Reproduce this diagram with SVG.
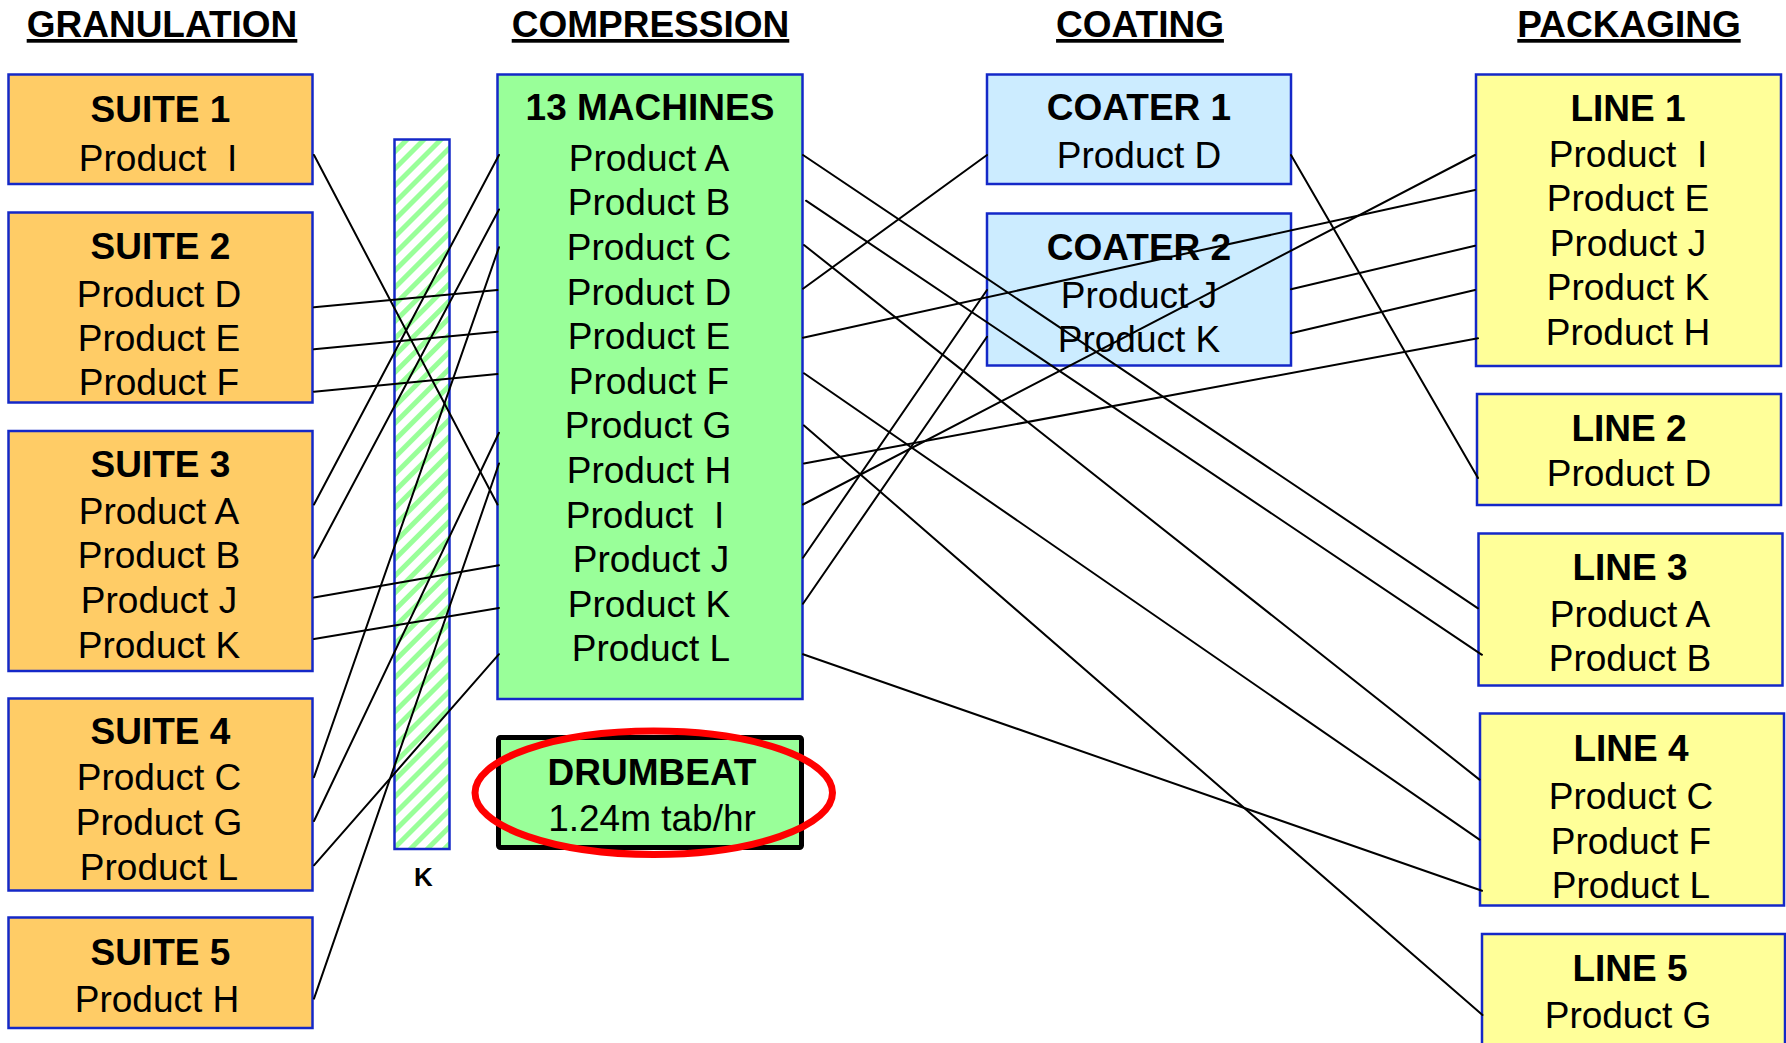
<svg xmlns="http://www.w3.org/2000/svg" width="1786" height="1043" viewBox="0 0 1786 1043">
<style>
text{font-family:"Liberation Sans",Arial,sans-serif;font-size:37px;fill:#000;text-anchor:middle}
.b{font-weight:bold}
.hdr{font-weight:bold;text-decoration:underline}
.box{stroke:#1428C8;stroke-width:2.5}
.suite{fill:#FFCC66}
.comp{fill:#99FF99}
.coat{fill:#CCECFF}
.line{fill:#FFFF99}
#connectors line{stroke:#000;stroke-width:2;stroke-linecap:round}
</style>
<defs>
<pattern id="hatch" width="12" height="12" patternUnits="userSpaceOnUse" patternTransform="rotate(45)">
<rect width="12" height="12" fill="#fff"/>
<rect width="5" height="12" fill="#99FF99"/>
</pattern>
</defs>
<rect width="1786" height="1043" fill="#fff"/>

<g id="headers">
<text class="hdr" x="162" y="37">GRANULATION</text>
<text class="hdr" x="650.5" y="37">COMPRESSION</text>
<text class="hdr" x="1140" y="37">COATING</text>
<text class="hdr" x="1629" y="37">PACKAGING</text>
</g>

<g id="suite1"><rect class="box suite" x="8.5" y="74.5" width="304" height="109.5"/>
<text xml:space="preserve"><tspan class="b" x="160.5" y="121.7">SUITE 1</tspan><tspan x="158" y="170.7">Product  I</tspan></text></g>
<g id="suite2"><rect class="box suite" x="8.5" y="212.5" width="304" height="190"/>
<text><tspan class="b" x="160.5" y="259.3">SUITE 2</tspan><tspan x="159" y="306.5">Product D</tspan><tspan x="159" y="350.5">Product E</tspan><tspan x="159" y="395">Product F</tspan></text></g>
<g id="suite3"><rect class="box suite" x="8.5" y="431" width="304" height="240"/>
<text><tspan class="b" x="160.5" y="477">SUITE 3</tspan><tspan x="159" y="524.2">Product A</tspan><tspan x="159" y="568.1">Product B</tspan><tspan x="159" y="613.2">Product J</tspan><tspan x="159" y="658.3">Product K</tspan></text></g>
<g id="suite4"><rect class="box suite" x="8.5" y="698.5" width="304" height="192"/>
<text><tspan class="b" x="160.5" y="744.4">SUITE 4</tspan><tspan x="159" y="790.3">Product C</tspan><tspan x="159" y="834.6">Product G</tspan><tspan x="159" y="879.7">Product L</tspan></text></g>
<g id="suite5"><rect class="box suite" x="8.5" y="917.5" width="304" height="110.5"/>
<text><tspan class="b" x="160.5" y="964.6">SUITE 5</tspan><tspan x="157" y="1012.1">Product H</tspan></text></g>

<g id="buffer-k"><rect class="box" fill="url(#hatch)" x="394.5" y="139.5" width="55" height="709.5"/>
<text class="b" x="423.5" y="886" style="font-size:26px">K</text></g>

<g id="compression"><rect class="box comp" x="497.5" y="74.5" width="305" height="624.5"/>
<text xml:space="preserve"><tspan class="b" x="650" y="120">13 MACHINES</tspan><tspan x="649" y="170.7">Product A</tspan><tspan x="649" y="215.3">Product B</tspan><tspan x="649" y="259.9">Product C</tspan><tspan x="649" y="304.5">Product D</tspan><tspan x="649" y="349.1">Product E</tspan><tspan x="649" y="393.7">Product F</tspan><tspan x="648" y="438.3">Product G</tspan><tspan x="649" y="482.9">Product H</tspan><tspan x="645" y="527.5">Product  I</tspan><tspan x="651" y="572.1">Product J</tspan><tspan x="649" y="616.7">Product K</tspan><tspan x="651" y="661.3">Product L</tspan></text></g>

<g id="drumbeat"><rect x="498.5" y="737.5" width="303" height="110" rx="2" fill="#99FF99" stroke="#000" stroke-width="5"/>
<text><tspan class="b" x="652" y="785.4">DRUMBEAT</tspan><tspan x="652" y="830.5">1.24m tab/hr</tspan></text>
<ellipse cx="653.75" cy="792.75" rx="178.75" ry="61.75" fill="none" stroke="#FF0000" stroke-width="7"/></g>

<g id="coater1"><rect class="box coat" x="987" y="74.5" width="304" height="109.5"/>
<text><tspan class="b" x="1139" y="120">COATER 1</tspan><tspan x="1139" y="168.3">Product D</tspan></text></g>
<g id="coater2"><rect class="box coat" x="987" y="213.5" width="304" height="152"/>
<text><tspan class="b" x="1139" y="260">COATER 2</tspan><tspan x="1139" y="308.3">Product J</tspan><tspan x="1139" y="351.7">Product K</tspan></text></g>

<g id="line1"><rect class="box line" x="1476" y="74.5" width="305" height="291.5"/>
<text xml:space="preserve"><tspan class="b" x="1628" y="120.7">LINE 1</tspan><tspan x="1628" y="166.7">Product  I</tspan><tspan x="1628" y="211">Product E</tspan><tspan x="1628" y="255.5">Product J</tspan><tspan x="1628" y="300">Product K</tspan><tspan x="1628" y="345">Product H</tspan></text></g>
<g id="line2"><rect class="box line" x="1477" y="394" width="304" height="111"/>
<text><tspan class="b" x="1629" y="441.3">LINE 2</tspan><tspan x="1629" y="485.7">Product D</tspan></text></g>
<g id="line3"><rect class="box line" x="1478.5" y="533.5" width="304" height="152"/>
<text><tspan class="b" x="1630" y="579.6">LINE 3</tspan><tspan x="1630" y="626.5">Product A</tspan><tspan x="1630" y="670.9">Product B</tspan></text></g>
<g id="line4"><rect class="box line" x="1480" y="713.5" width="304" height="192"/>
<text><tspan class="b" x="1631" y="760.5">LINE 4</tspan><tspan x="1631" y="809">Product C</tspan><tspan x="1631" y="853.6">Product F</tspan><tspan x="1631" y="898">Product L</tspan></text></g>
<g id="line5"><rect class="box line" x="1482" y="934" width="303" height="130"/>
<text><tspan class="b" x="1630" y="981">LINE 5</tspan><tspan x="1628" y="1028.3">Product G</tspan></text></g>

<g id="connectors">
<line x1="314" y1="155" x2="497.5" y2="504.5"/>
<line x1="314" y1="307.3" x2="497.5" y2="290"/>
<line x1="314" y1="349.3" x2="497.5" y2="331.7"/>
<line x1="314" y1="391.7" x2="497.5" y2="374"/>
<line x1="314" y1="504.5" x2="499" y2="155"/>
<line x1="314" y1="557.8" x2="499" y2="209.5"/>
<line x1="314" y1="597.6" x2="499" y2="565.2"/>
<line x1="314" y1="639" x2="499" y2="608"/>
<line x1="314" y1="777.2" x2="499" y2="247.3"/>
<line x1="314" y1="821" x2="499" y2="432.8"/>
<line x1="314" y1="865.3" x2="499" y2="654.2"/>
<line x1="314" y1="998.6" x2="499" y2="463.5"/>
<line x1="803" y1="155" x2="1478" y2="608.3"/>
<line x1="806" y1="200.7" x2="1482" y2="654.8"/>
<line x1="804" y1="245" x2="1479.5" y2="779.6"/>
<line x1="803" y1="288.7" x2="987" y2="155"/>
<line x1="803" y1="337.7" x2="1475" y2="190"/>
<line x1="804" y1="373.3" x2="1479.5" y2="839.6"/>
<line x1="804" y1="425.4" x2="1482.5" y2="1015"/>
<line x1="804" y1="463.5" x2="1478" y2="338.3"/>
<line x1="803" y1="504.5" x2="1475" y2="155"/>
<line x1="803" y1="557.8" x2="987" y2="290"/>
<line x1="803" y1="603.8" x2="987" y2="336.7"/>
<line x1="803" y1="654.2" x2="1482" y2="890.8"/>
<line x1="1291" y1="155" x2="1478" y2="478"/>
<line x1="1291" y1="289.3" x2="1475" y2="245.7"/>
<line x1="1291" y1="333.3" x2="1475" y2="290"/>
</g>
</svg>
